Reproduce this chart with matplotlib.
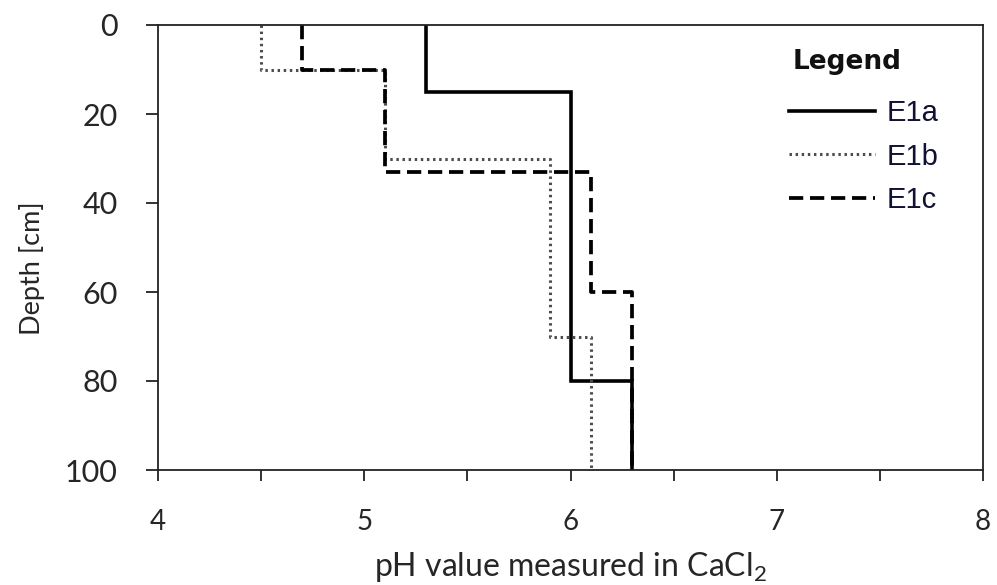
import matplotlib
matplotlib.use("Agg")
import matplotlib.pyplot as plt
from matplotlib.ticker import MultipleLocator

# soil layers: top depth, bottom depth (cm) and pH per layer
e1a_top = [0, 15, 80]
e1a_bot = [15, 80, 100]
e1a_ph = [5.3, 6.0, 6.3]

e1b_top = [0, 10, 30, 70]
e1b_bot = [10, 30, 70, 100]
e1b_ph = [4.5, 5.1, 5.9, 6.1]

e1c_top = [0, 10, 33, 60]
e1c_bot = [10, 33, 60, 100]
e1c_ph = [4.7, 5.1, 6.1, 6.3]

profiles = [
    ("E1a", e1a_top, e1a_bot, e1a_ph, dict(linestyle="-", linewidth=2.6)),
    ("E1b", e1b_top, e1b_bot, e1b_ph, dict(linestyle=(0, (0.8, 1.2)), linewidth=2.2, color="#4d4d4d")),
    ("E1c", e1c_top, e1c_bot, e1c_ph, dict(linestyle=(0, (3.8, 1.8)), linewidth=2.7)),
]

font = "Lato"
txt = "#262626"
plt.rcParams["font.family"] = font
plt.rcParams["mathtext.fontset"] = "custom"
plt.rcParams["mathtext.rm"] = font
plt.rcParams["xtick.labelsize"] = 20
plt.rcParams["ytick.labelsize"] = 22

fig = plt.figure(figsize=(9.97, 5.85), dpi=100)
ax = fig.add_axes([158 / 997, 1 - 470 / 585, 825 / 997, 445 / 585])

for name, top, bot, ph, style in profiles:
    xs, ys = [], []
    for t, b, p in zip(top, bot, ph):
        xs += [p, p]
        ys += [t, b]
    kw = dict(color="black")
    kw.update(style)
    ax.plot(xs, ys, label=name, solid_joinstyle="miter", **kw)

ax.set_xlim(4, 8)
ax.set_ylim(100, 0)
ax.xaxis.set_major_locator(MultipleLocator(1))
ax.xaxis.set_minor_locator(MultipleLocator(0.5))
ax.yaxis.set_major_locator(MultipleLocator(20))

for s in ax.spines.values():
    s.set_linewidth(1.3)
    s.set_color("#222222")
ax.tick_params(axis="both", which="both", direction="out", width=1.3,
               color="#222222", labelcolor=txt)
ax.tick_params(axis="x", which="both", length=8, pad=20)
ax.tick_params(axis="y", length=9, pad=20)

ax.set_xlabel("pH value measured in CaCl$_2$", fontsize=23, color=txt)
ax.xaxis.label.set_va("baseline")
ax.xaxis.set_label_coords(0.5, -106 / 445)
ax.set_ylabel("Depth [cm]", fontsize=19.5, color=txt)
ax.yaxis.label.set_va("center")
ax.yaxis.set_label_coords(-126 / 825, 202 / 445)

ax.text(635 / 825, (470 - 62) / 445, "Legend", transform=ax.transAxes,
        family="DejaVu Sans", weight="bold", fontsize=19, color="#111111",
        ha="left", va="center")
leg = ax.legend(loc="upper left", bbox_to_anchor=(0.765, 0.834), frameon=False,
                prop=dict(family="Liberation Sans", size=21), handlelength=2.95,
                handletextpad=0.4, labelspacing=0.54, borderaxespad=0, borderpad=0)
for t in leg.get_texts():
    t.set_color("#111133")

fig.savefig("out.png", dpi=100)
